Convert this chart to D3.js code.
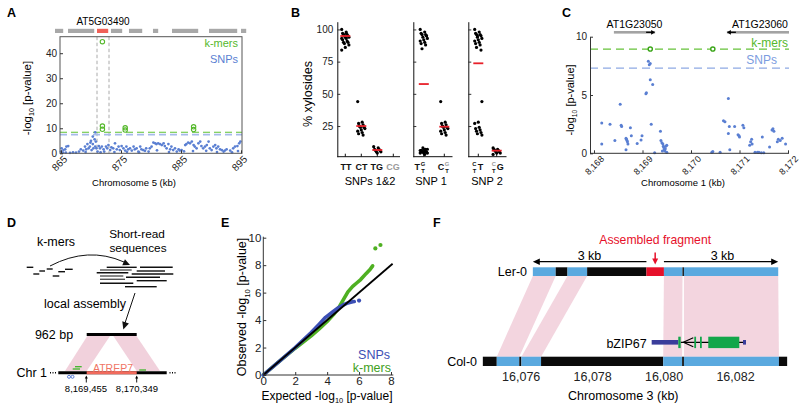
<!DOCTYPE html>
<html><head><meta charset="utf-8">
<script src="https://d3js.org/d3.v7.min.js"></script>
<style>
html,body{margin:0;padding:0;background:#fff;}
svg{display:block;font-family:"Liberation Sans",Arial,Helvetica,sans-serif;}
</style></head>
<body><svg id="fig" width="800" height="411" viewBox="0 0 800 411"></svg>
<script>
// ================= DATA =================
// Panel A
const aTicksX = [865, 875, 885, 895];
const aTicksY = [0, 10, 20, 30, 40];
const aGeneStart = [864.0, 866.17, 871.0, 873.33, 876.33, 880.33, 883.5, 889.67, 895.0];
const aGeneEnd   = [865.5, 870.67, 873.0, 875.33, 878.67, 881.33, 888.0, 894.5, 896.0];
const aGeneName = "AT5G03490";
const aGeneIdx = 2;
const aKmerThreshold = 8.4;
const aSnpThreshold = 7.5;
const aKmerPos = [871.9, 871.9, 871.9, 875.7, 875.7, 887.1, 887.1];
const aKmerVal = [44.6, 10.9, 9.6, 10.2, 9.3, 10.6, 9.5];
const aSnpPos = [865.0,865.1,865.4,865.7,865.9,866.2,865.8,865.3,866.5,867.0,867.5,868.0,868.3,868.7,869.0,869.1,869.2,869.4,869.6,869.8,869.9,
 870.0,870.1,870.3,870.3,870.4,870.6,870.7,870.7,870.8,870.9,871.1,871.3,871.5,871.6,871.8,872.1,872.2,872.5,872.7,872.9,873.2,873.4,873.7,873.9,
 874.0,874.3,874.6,874.8,875.1,875.4,875.7,875.9,876.0,876.2,876.5,876.8,877.1,877.3,877.6,877.9,878.0,878.2,878.4,878.7,879.0,879.2,879.6,879.8,
 880.1,880.4,880.7,880.9,881.0,881.2,881.5,881.8,882.1,882.3,882.6,882.9,883.0,883.2,883.4,883.7,884.0,884.3,884.6,884.8,885.1,885.5,885.7,885.9,
 886.2,886.5,886.8,887.0,887.1,887.3,887.6,887.9,888.2,888.4,888.7,889.0,889.2,889.3,889.6,889.8,890.1,890.4,890.7,890.9,891.0,891.2,891.5,891.8,
 892.1,892.3,892.6,893.2,893.5,893.7,894.0,894.4,894.5,894.7,894.9];
const aSnpVal = [0.7,2.0,1.3,1.6,2.7,2.9,0.3,0.3,0.2,0.4,0.3,0.7,1.6,1.1,2.7,0.5,1.6,3.7,2.0,2.7,4.3,
 5.0,1.3,3.7,6.7,2.0,5.6,2.7,8.4,4.7,2.0,0.7,2.9,2.0,0.4,2.7,1.6,0.7,2.7,2.0,3.3,1.3,2.4,2.0,0.5,
 4.0,1.6,2.7,1.3,2.9,2.0,1.1,2.7,0.6,1.6,2.0,1.1,2.7,1.6,2.0,0.7,0.4,2.7,1.6,1.3,1.0,2.0,0.7,2.0,
 2.7,4.3,4.0,3.7,1.2,4.0,3.7,3.3,4.0,2.9,2.0,3.7,0.5,1.6,2.7,1.3,2.0,0.7,1.6,1.1,1.3,0.8,3.3,3.7,
 4.3,4.0,4.7,0.9,3.3,2.7,2.0,4.0,4.7,2.9,2.0,2.7,1.0,3.3,4.7,2.0,1.3,2.7,3.3,2.0,0.5,2.7,1.6,1.3,
 0.7,1.1,1.6,1.1,0.4,2.0,2.7,2.9,0.9,4.0,4.7];

// Panel B
const bGroupNames = ["SNPs 1&2", "SNP 1", "SNP 2"];
const bTicksY = [25, 50, 75, 100];
const b1Cats = ["TT", "CT", "TG", "CG"];
const b1Means = [94.9, 25.0, 6.4, null];
const b1Values = [
  [100,98,97,96,96,95,95,94,94,93,93,92,91,90,90,89,88,86,84,97],
  [44,28,27,26,25,24,24,23,22,21,20,19,18,25],
  [9,8,7,7,6,6,5,5,4],
  []];
const b2Cats = ["T(G/T)", "C(G/T)"];
const b2Means = [57.6, 24.5];
const b2Values = [
  [100,98,97,96,96,95,94,93,92,91,90,89,88,85,95,8,7,7,6,6,6,5,5,5,5,4,4,4,3,6,7,5],
  [44,28,27,26,25,24,24,23,22,21,20,19,18,25]];
const b3Cats = ["(C/T)T", "(C/T)G"];
const b3Means = [73.7, 5.9];
const b3Values = [
  [100,98,97,96,96,95,94,93,92,91,90,89,88,86,84,95,44,28,27,24,23,22,21,20,19,18],
  [8,7,7,6,6,5,5,4,4,3]];

// Panel C
const cTicksX = [8168, 8169, 8170, 8171, 8172];
const cTicksY = [0, 5, 10];
const cGeneNames = ["AT1G23050", "AT1G23060"];
const cGeneStart = [8168.41, 8170.74];
const cGeneEnd = [8169.26, 8172.04];
const cGeneStrand = [1, -1];
const cKmerThreshold = 8.94;
const cSnpThreshold = 7.3;
const cKmerPos = [8169.16, 8170.45];
const cKmerVal = [8.94, 8.94];
const cSnpPos = [8168.16,8168.16,8168.33,8168.43,8168.54,8168.56,8168.57,8168.66,8168.67,8168.68,8168.69,8168.70,8168.66,8168.75,8168.77,
 8168.89,8168.97,8168.99,8169.07,8169.08,8169.16,8169.21,8169.12,8169.14,8169.16,8169.18,8169.25,8169.37,8169.38,8169.40,8169.42,8169.43,
 8169.44,8169.45,8169.46,8169.47,8169.48,8169.50,8169.50,8169.41,8170.43,8170.45,8170.60,8170.67,8170.70,8170.77,8170.77,8170.79,8170.80,
 8170.90,8170.97,8170.99,8171.00,8171.07,8171.09,8171.21,8171.23,8171.25,8171.26,8171.32,8171.37,8171.40,8171.45,8171.47,8171.50,8171.62,
 8171.67,8171.69,8171.71,8171.78,8171.80,8171.84,8171.88,8171.95];
const cSnpVal = [2.6,0.8,2.5,1.1,4.2,2.4,2.3,1.3,1.2,1.1,1.0,0.8,0.3,2.2,1.5,
 0.85,1.14,1.5,5.1,5.2,6.3,5.9,7.9,7.6,7.7,2.5,0.05,1.9,1.1,0.9,0.8,0.6,
 0.5,0.3,0.2,0.4,0.6,0.7,0.1,0.2,0.1,0.15,0.1,2.8,2.7,4.7,1.7,2.3,0.3,
 2.3,1.6,1.5,1.4,2.4,2.2,0.7,1.0,1.2,0.8,0.1,0.1,0.1,0.05,1.4,0.05,0.55,
 2.0,2.1,1.9,1.0,1.2,1.1,1.3,0.8];

// Panel D
const dLeftCoord = "8,169,455";
const dRightCoord = "8,170,349";
const dContig = "962 bp";
const dTE = "ATREP7";

// Panel E
const eTicksX = [0, 2, 4, 6, 8];
const eTicksY = [0, 2, 4, 6, 8, 10];
const eKmerExp = [0, 1, 2, 3, 3.5, 4, 4.4, 4.7, 5.0, 5.3, 5.6, 5.85, 6.1, 6.45, 6.7, 6.85];
const eKmerObs = [0, 1, 1.95, 2.85, 3.35, 3.9, 4.4, 4.85, 5.45, 6.05, 6.45, 6.7, 6.95, 7.4, 7.7, 7.95];
const eKmerOutExp = [7.02, 7.34];
const eKmerOutObs = [9.22, 9.47];
const eSnpExp = [0, 1, 2, 2.5, 3, 3.5, 3.9, 4.3, 4.7, 5.0, 5.3, 5.6, 5.7];
const eSnpObs = [0, 1, 2, 2.55, 3.1, 3.7, 4.2, 4.55, 4.9, 5.1, 5.25, 5.33, 5.35];
const eSnpOutExp = [6.0];
const eSnpOutObs = [5.42];
const eDiagonal = [0, 8.1];

// Panel F
const fTicksX = [16076, 16078, 16080, 16082];
const fLerStart = [16076.34, 16076.98, 16077.31, 16077.86, 16079.52, 16080.01, 16080.53, 16080.57];
const fLerEnd   = [16076.98, 16077.31, 16077.86, 16079.52, 16080.01, 16080.53, 16080.57, 16083.21];
const fLerType  = ["aligned", "unaligned", "aligned", "unaligned", "assembled", "aligned", "unaligned", "aligned"];
const fColStart = [16074.94, 16075.33, 16075.96, 16076.02, 16076.57, 16079.99, 16080.52, 16080.57, 16083.23];
const fColEnd   = [16075.33, 16075.96, 16076.02, 16076.57, 16079.99, 16080.52, 16080.57, 16083.23, 16083.46];
const fColType  = ["unaligned", "aligned", "unaligned", "aligned", "unaligned", "aligned", "unaligned", "aligned", "unaligned"];
const fPairsLer = [0, 2, 5, 7];
const fPairsCol = [1, 3, 5, 7];
const fGeneName = "bZIP67";
const fUtrStart = [16079.667, 16082.224];
const fUtrEnd   = [16080.412, 16082.308];
const fExonStart = [16080.412, 16080.86, 16081.02, 16081.252];
const fExonEnd   = [16080.479, 16080.91, 16081.07, 16082.12];
const fChevron = [16080.552, 16080.832];
const fSpan = [3, 3];

// ================= DRAWING =================
const svg = d3.select("#fig");
const GREEN = "#55b82c", BLUE = "#5a7fd2", LBLUE = "#a6bbea", AXC = "#333";

function txt(g, x, y, s, size, o = {}) {
  const t = g.append("text").attr("x", x).attr("y", y).attr("font-size", size).text(s);
  if (o.anchor) t.attr("text-anchor", o.anchor);
  if (o.fill) t.attr("fill", o.fill);
  if (o.weight) t.attr("font-weight", o.weight);
  return t;
}
function logTitle(g, x, y, size, pre, rotate) {
  const t = g.append("text").attr("text-anchor", "middle").attr("font-size", size)
    .attr("transform", rotate ? `translate(${x},${y}) rotate(-90)` : `translate(${x},${y})`);
  t.append("tspan").text(pre + "-log");
  t.append("tspan").attr("font-size", size * 0.62).attr("dy", size * 0.3).text("10");
  t.append("tspan").attr("dy", -size * 0.3).text(" [p-value]");
}
function styleAxis(a, size) {
  a.attr("font-family", null).attr("font-size", null).attr("color", AXC);
  a.selectAll("text").attr("font-size", size).attr("fill", "#222");
}
function arrowHead(g, tx, ty, ang, len, half, color) {
  const c = Math.cos(ang), s = Math.sin(ang);
  const bx = tx - len * c, by = ty - len * s;
  g.append("path").attr("d", `M${tx},${ty}L${bx - half * s},${by + half * c}L${bx + half * s},${by - half * c}Z`).attr("fill", color);
}
function letter(t, x, y) { txt(svg, x, y, t, 12.5, { weight: "bold" }); }

letter("A", 7, 17); letter("B", 291, 17); letter("C", 562, 17);
letter("D", 7, 227); letter("E", 221, 227); letter("F", 433, 227);

// ---------- Panel A ----------
(function () {
  const g = svg.append("g");
  const L = 60, R = 242, T = 36.7, B = 153.3;
  const x = d3.scaleLinear().domain([865, 895]).range([61, 241]);
  const y = d3.scaleLinear().domain([0, 46.6]).range([B, T]);
  g.selectAll("rect.gene").data(aGeneStart.map((s, i) => ({ s, e: aGeneEnd[i], hi: i === aGeneIdx }))).join("rect")
    .attr("x", d => x(d.s)).attr("y", 28.8).attr("width", d => x(d.e) - x(d.s) - 0.8).attr("height", 4.2)
    .attr("fill", d => d.hi ? "#f06158" : "#a8a8a8");
  txt(g, (x(aGeneStart[aGeneIdx]) + x(aGeneEnd[aGeneIdx])) / 2, 25, aGeneName, 10, { anchor: "middle" });
  [aGeneStart[aGeneIdx], aGeneEnd[aGeneIdx]].forEach(v => {
    g.append("line").attr("x1", x(v)).attr("x2", x(v)).attr("y1", T).attr("y2", B)
      .attr("stroke", "#a0a0a0").attr("stroke-width", 0.9).attr("stroke-dasharray", "3.5,2.5");
  });
  g.append("line").attr("x1", L).attr("x2", R).attr("y1", y(aSnpThreshold)).attr("y2", y(aSnpThreshold))
    .attr("stroke", LBLUE).attr("stroke-width", 1.8).attr("stroke-dasharray", "7,4");
  g.append("line").attr("x1", L).attr("x2", R).attr("y1", y(aKmerThreshold)).attr("y2", y(aKmerThreshold))
    .attr("stroke", "#5fc233").attr("stroke-width", 1.1).attr("stroke-dasharray", "7,4");
  g.selectAll("circle.snp").data(aSnpPos.map((p, i) => [p, aSnpVal[i]])).join("circle")
    .attr("cx", d => x(d[0])).attr("cy", d => y(d[1])).attr("r", 1.35).attr("fill", BLUE);
  g.selectAll("circle.kmer").data(aKmerPos.map((p, i) => [p, aKmerVal[i]])).join("circle")
    .attr("cx", d => x(d[0])).attr("cy", d => y(d[1])).attr("r", 2.2).attr("fill", "none")
    .attr("stroke", GREEN).attr("stroke-width", 1.1);
  g.append("rect").attr("x", L).attr("y", T).attr("width", R - L).attr("height", B - T)
    .attr("fill", "none").attr("stroke", "#555").attr("stroke-width", 1);
  const ay = g.append("g").attr("transform", `translate(${L},0)`)
    .call(d3.axisLeft(y).tickValues(aTicksY).tickSize(-3).tickPadding(3));
  ay.select(".domain").remove(); styleAxis(ay, 10);
  const ax = g.append("g").attr("transform", `translate(0,${B})`)
    .call(d3.axisBottom(x).tickValues(aTicksX).tickSize(-3).tickFormat(d3.format("d")));
  ax.select(".domain").remove(); styleAxis(ax, 10);
  ax.selectAll("text").attr("y", 0).attr("dy", "0.35em").attr("text-anchor", "middle")
    .attr("transform", "translate(-2,10) rotate(-45)");
  txt(g, 238, 46.5, "k-mers", 11, { anchor: "end", fill: GREEN });
  txt(g, 238, 62.5, "SNPs", 11, { anchor: "end", fill: BLUE });
  txt(g, 134, 185.5, "Chromosome 5 (kb)", 9.5, { anchor: "middle" });
  logTitle(g, 31, 98, 11.5, "", true);
})();

// ---------- Panel B ----------
(function () {
  const g = svg.append("g");
  const y = d3.scaleLinear().domain([1.2, 106]).range([156.7, 21.7]);
  const jit = i => ((i * 5) % 9 - 4) * 0.9;
  const subs = [
    { x0: 337.3, x1: 400, cats: b1Cats, range: [345.3, 393.3], vals: b1Values, means: b1Means, labels: true, name: bGroupNames[0], nx: 370 },
    { x0: 413.3, x1: 452.5, cats: b2Cats, range: [423.8, 444.3], vals: b2Values, means: b2Means, labels: false, name: bGroupNames[1], nx: 431 },
    { x0: 468.3, x1: 506.5, cats: b3Cats, range: [478.3, 496.7], vals: b3Values, means: b3Means, labels: false, name: bGroupNames[2], nx: 487 }];
  subs.forEach(s => {
    const x = d3.scalePoint().domain(s.cats).range(s.range);
    const ay = g.append("g").attr("transform", `translate(${s.x0},0)`)
      .call(d3.axisLeft(y).tickValues(bTicksY).tickSize(-3).tickPadding(4).tickSizeOuter(0)
        .tickFormat(s.labels ? d3.format("d") : () => ""));
    styleAxis(ay, 10);
    ay.select(".domain").attr("stroke", "#111");
    g.append("line").attr("x1", s.x0).attr("x2", s.x1).attr("y1", 156.7).attr("y2", 156.7).attr("stroke", "#111");
    s.cats.forEach(c => g.append("line").attr("x1", x(c)).attr("x2", x(c)).attr("y1", 156.7).attr("y2", 153.7).attr("stroke", "#111"));
    s.cats.forEach((c, ci) => {
      g.selectAll(null).data(s.vals[ci]).join("circle")
        .attr("cx", (d, i) => x(c) + jit(i)).attr("cy", d => y(d)).attr("r", 1.6).attr("fill", "#000");
      if (s.means[ci] != null)
        g.append("line").attr("x1", x(c) - 5).attr("x2", x(c) + 5).attr("y1", y(s.means[ci])).attr("y2", y(s.means[ci]))
          .attr("stroke", "#e8202a").attr("stroke-width", 1.8);
    });
    txt(g, s.nx, 184.5, s.name, 11, { anchor: "middle" });
  });
  // category tick labels (allele notation)
  const LBL = 9, SM = 5.8, GR = "#9a9a9a", base = 170, TOP = 165.5, BOT = 172.5;
  txt(g, 346, base, "TT", LBL, { anchor: "middle", weight: "bold", fill: "#111" });
  txt(g, 361.5, base, "CT", LBL, { anchor: "middle", weight: "bold", fill: "#111" });
  txt(g, 376.7, base, "TG", LBL, { anchor: "middle", weight: "bold", fill: "#111" });
  txt(g, 393, base, "CG", LBL, { anchor: "middle", weight: "bold", fill: GR });
  function stacked(parts) {
    const t = g.append("text").attr("font-weight", "bold").attr("text-anchor", "middle").attr("fill", "#111");
    parts.forEach(p => t.append("tspan").attr("x", p[0]).attr("y", p[1]).attr("font-size", p[3])
      .attr("fill", p[4] ? GR : "#111").text(p[2]));
  }
  stacked([[417.3, base, "T", LBL], [423, TOP, "G", SM], [423, BOT, "T", SM]]);
  stacked([[441, base, "C", LBL], [447, TOP, "G", SM, 1], [447, BOT, "T", SM]]);
  stacked([[474.4, TOP, "C", SM], [474.4, BOT, "T", SM], [480.4, base, "T", LBL]]);
  stacked([[493.8, TOP, "C", SM, 1], [493.8, BOT, "T", SM], [500.2, base, "G", LBL]]);
  g.append("text").attr("transform", "translate(312,94) rotate(-90)").attr("text-anchor", "middle")
    .attr("font-size", 12.5).text("% xylosides");
})();

// ---------- Panel C ----------
(function () {
  const g = svg.append("g");
  const L = 590, R = 789, T = 36.7, B = 153.3;
  const x = d3.scaleLinear().domain([8168, 8172]).range([594, 788]);
  const y = d3.scaleLinear().domain([0, 10]).range([B, T]);
  cGeneStart.forEach((s, i) => {
    g.append("rect").attr("x", x(s)).attr("y", 31).attr("width", Math.min(x(cGeneEnd[i]), R) - x(s)).attr("height", 2.6).attr("fill", "#a3a3a3");
    const tipX = cGeneStrand[i] > 0 ? x(cGeneEnd[i]) : x(s);
    const tailX = tipX - cGeneStrand[i] * 9;
    g.append("line").attr("x1", tailX).attr("x2", tipX - cGeneStrand[i] * 3).attr("y1", 32.3).attr("y2", 32.3).attr("stroke", "#000").attr("stroke-width", 1.3);
    arrowHead(g, tipX, 32.3, cGeneStrand[i] > 0 ? 0 : Math.PI, 4, 2.4, "#000");
    txt(g, i === 0 ? (x(s) + x(cGeneEnd[i])) / 2 : 760, 28, cGeneNames[i], 10.5, { anchor: "middle" });
  });
  g.append("line").attr("x1", L).attr("x2", R).attr("y1", y(cSnpThreshold)).attr("y2", y(cSnpThreshold))
    .attr("stroke", "#8ea9e3").attr("stroke-width", 1.2).attr("stroke-dasharray", "8,5");
  g.append("line").attr("x1", L).attr("x2", R).attr("y1", y(cKmerThreshold)).attr("y2", y(cKmerThreshold))
    .attr("stroke", "#66c23a").attr("stroke-width", 1.2).attr("stroke-dasharray", "8,5");
  g.selectAll("circle.snp").data(cSnpPos.map((p, i) => [p, cSnpVal[i]])).join("circle")
    .attr("cx", d => x(d[0])).attr("cy", d => y(d[1])).attr("r", 1.5).attr("fill", BLUE);
  g.selectAll("circle.kmer").data(cKmerPos.map((p, i) => [p, cKmerVal[i]])).join("circle")
    .attr("cx", d => x(d[0])).attr("cy", d => y(d[1])).attr("r", 2.1).attr("fill", "#fff")
    .attr("stroke", "#3aa518").attr("stroke-width", 1.4);
  const ay = g.append("g").attr("transform", `translate(${L},0)`)
    .call(d3.axisLeft(y).tickValues(cTicksY).tickSize(-3).tickPadding(3).tickSizeOuter(0));
  styleAxis(ay, 10);
  g.append("line").attr("x1", L).attr("x2", R).attr("y1", B).attr("y2", B).attr("stroke", AXC);
  const ax = g.append("g").attr("transform", `translate(0,${B})`)
    .call(d3.axisBottom(x).tickValues(cTicksX).tickSize(-3).tickFormat(d3.format(",")));
  ax.select(".domain").remove(); styleAxis(ax, 9);
  ax.selectAll("text").attr("y", 0).attr("dy", "0.35em").attr("text-anchor", "middle")
    .attr("transform", "translate(0,12) rotate(-45)");
  txt(g, 788, 47, "k-mers", 12, { anchor: "end", fill: GREEN });
  txt(g, 777, 64, "SNPs", 12, { anchor: "end", fill: "#7b9ce0" });
  txt(g, 683, 186, "Chromosome 1 (kb)", 9.5, { anchor: "middle" });
  logTitle(g, 574, 100, 11, "", true);
})();

// ---------- Panel D ----------
(function () {
  const g = svg.append("g");
  txt(g, 56, 246, "k-mers", 12.5, { anchor: "middle" });
  txt(g, 137, 237.8, "Short-read", 11.8, { anchor: "middle" });
  txt(g, 138, 251.5, "sequences", 11.8, { anchor: "middle" });
  [[26.7, 33.3, 267.3], [33.3, 39.3, 274], [39.3, 45, 271], [46.7, 52.7, 269], [52.7, 59.3, 276], [58.3, 65, 271.7], [65, 72.7, 269.3]]
    .forEach(d => g.append("line").attr("x1", d[0]).attr("x2", d[1]).attr("y1", d[2]).attr("y2", d[2]).attr("stroke", "#111").attr("stroke-width", 1.4));
  g.append("path").attr("d", "M50,266 Q88,246 124,262").attr("fill", "none").attr("stroke", "#111").attr("stroke-width", 1);
  arrowHead(g, 130, 265, 0.42, 7, 3.3, "#111");
  [[106.7, 136.7, 267.3, 0], [140, 172.7, 267.3, 0], [100, 131.7, 270, 1], [136.7, 165, 271, 0], [96.7, 128.3, 272.7, 0],
   [131.7, 173.3, 274, 0], [100, 123.3, 276, 1], [126, 160, 277.3, 0], [100, 125, 279.3, 1], [136.7, 166.7, 280.7, 0],
   [100, 133.3, 283.3, 0], [125, 156.7, 286.7, 0]]
    .forEach(d => g.append("line").attr("x1", d[0]).attr("x2", d[1]).attr("y1", d[2]).attr("y2", d[2])
      .attr("stroke", d[3] ? "#555" : "#111").attr("stroke-width", 1.4));
  txt(g, 85, 307.5, "local assembly", 12.5, { anchor: "middle" });
  g.append("line").attr("x1", 135).attr("y1", 293).attr("x2", 125).attr("y2", 323).attr("stroke", "#111").attr("stroke-width", 1);
  arrowHead(g, 123.3, 329.5, Math.atan2(36.5, -11.7), 7.5, 3.5, "#111");
  txt(g, 54, 339, dContig, 12.5, { anchor: "middle" });
  g.append("path").attr("d", "M87.3,336 L110,336 L86.7,371 L65,371 Z").attr("fill", "#efc9d6").attr("opacity", 0.85);
  g.append("path").attr("d", "M113.3,336 L136.5,336 L160,371 L136.7,371 Z").attr("fill", "#efc9d6").attr("opacity", 0.85);
  g.append("line").attr("x1", 86.7).attr("x2", 136.7).attr("y1", 334.5).attr("y2", 334.5).attr("stroke", "#000").attr("stroke-width", 3);
  g.append("line").attr("x1", 58.3).attr("x2", 166.7).attr("y1", 372.7).attr("y2", 372.7).attr("stroke", "#000").attr("stroke-width", 3);
  g.append("line").attr("x1", 86.7).attr("x2", 136.7).attr("y1", 372.7).attr("y2", 372.7).attr("stroke", "#f26a5c").attr("stroke-width", 3);
  g.append("line").attr("x1", 50).attr("x2", 56).attr("y1", 372.7).attr("y2", 372.7).attr("stroke", "#000").attr("stroke-width", 1.6).attr("stroke-dasharray", "1,1.5");
  g.append("line").attr("x1", 169.5).attr("x2", 177).attr("y1", 372.7).attr("y2", 372.7).attr("stroke", "#000").attr("stroke-width", 1.6).attr("stroke-dasharray", "1,1.5");
  txt(g, 113, 371.5, dTE, 10.5, { anchor: "middle", fill: "#f07565" });
  txt(g, 16.5, 377, "Chr 1", 12.5);
  [[75, 81.7, 366.7], [72.7, 80, 369], [139.3, 146, 370]].forEach(d =>
    g.append("line").attr("x1", d[0]).attr("x2", d[1]).attr("y1", d[2]).attr("y2", d[2]).attr("stroke", "#3fb52a").attr("stroke-width", 1.3));
  [69, 72.5].forEach(cx => g.append("circle").attr("cx", cx).attr("cy", 376.8).attr("r", 1.5).attr("fill", "none").attr("stroke", "#4a6fcf").attr("stroke-width", 0.9));
  [86.3, 136.7].forEach(xx => {
    g.append("line").attr("x1", xx).attr("x2", xx).attr("y1", 382.5).attr("y2", 378).attr("stroke", "#000").attr("stroke-width", 0.9);
    arrowHead(g, xx, 375.5, -Math.PI / 2, 3, 1.5, "#000");
  });
  txt(g, 86, 391.5, dLeftCoord, 9.5, { anchor: "middle" });
  txt(g, 137, 391.5, dRightCoord, 9.5, { anchor: "middle" });
})();

// ---------- Panel E ----------
(function () {
  const g = svg.append("g");
  const x = d3.scaleLinear().domain([0, 8]).range([263.3, 391]);
  const y = d3.scaleLinear().domain([0, 10]).range([375, 237.7]);
  const line = d3.line().x(d => x(d[0])).y(d => y(d[1]));
  g.append("path").datum(eKmerExp.map((v, i) => [v, eKmerObs[i]])).attr("d", line).attr("fill", "none")
    .attr("stroke", "#4fb022").attr("stroke-width", 3.6).attr("stroke-linecap", "round").attr("stroke-linejoin", "round");
  g.selectAll("circle.ko").data(eKmerOutExp.map((v, i) => [v, eKmerOutObs[i]])).join("circle")
    .attr("cx", d => x(d[0])).attr("cy", d => y(d[1])).attr("r", 2.1).attr("fill", "#4fb022");
  g.append("path").datum(eSnpExp.map((v, i) => [v, eSnpObs[i]])).attr("d", line).attr("fill", "none")
    .attr("stroke", "#3c4fb5").attr("stroke-width", 3.6).attr("stroke-linecap", "round").attr("stroke-linejoin", "round");
  g.selectAll("circle.so").data(eSnpOutExp.map((v, i) => [v, eSnpOutObs[i]])).join("circle")
    .attr("cx", d => x(d[0])).attr("cy", d => y(d[1])).attr("r", 2.1).attr("fill", "#3c4fb5");
  g.append("path").datum(eDiagonal.map(v => [v, v])).attr("d", line).attr("stroke", "#000").attr("stroke-width", 1.8);
  const ay = g.append("g").attr("transform", "translate(263.3,0)")
    .call(d3.axisLeft(y).tickValues(eTicksY).tickSize(-3).tickPadding(2).tickSizeOuter(0));
  styleAxis(ay, 11.5);
  ay.select(".domain").attr("d", "M0,375V236.7");
  const ax = g.append("g").attr("transform", "translate(0,375)")
    .call(d3.axisBottom(x).tickValues(eTicksX).tickSize(-3).tickPadding(2).tickSizeOuter(0));
  styleAxis(ax, 11.5);
  ax.select(".domain").attr("d", "M263.3,0H393.3");
  txt(g, 390, 358.5, "SNPs", 12.5, { anchor: "end", fill: "#3c4fb5" });
  txt(g, 391, 372, "k-mers", 12.5, { anchor: "end", fill: "#3f9f1c" });
  logTitle(g, 327, 399.5, 12, "Expected ", false);
  logTitle(g, 246, 307, 12.5, "Observed ", true);
})();

// ---------- Panel F ----------
(function () {
  const g = svg.append("g");
  const x = d3.scaleLinear().domain([16076, 16082]).range([520.7, 735]);
  const LT = 267.3, LB = 276, CT = 356.7, CB = 366;
  const col = { aligned: "#5aa9df", unaligned: "#0b0b0b", assembled: "#e6102a" };
  fPairsLer.forEach((li, k) => {
    const ci = fPairsCol[k];
    g.append("path").attr("d", `M${x(fLerStart[li])},${LB} L${x(fLerEnd[li])},${LB} L${x(fColEnd[ci])},${CT} L${x(fColStart[ci])},${CT} Z`)
      .attr("fill", "#f3d5df");
  });
  g.append("line").attr("x1", x(fExonEnd[0])).attr("x2", x(fUtrStart[1])).attr("y1", 342.3).attr("y2", 342.3).attr("stroke", "#000").attr("stroke-width", 1.2);
  g.append("path").attr("d", `M${x(fChevron[1])},337.8 L${x(fChevron[0])},342.3 L${x(fChevron[1])},346.8`).attr("fill", "none").attr("stroke", "#000").attr("stroke-width", 1.1);
  fUtrStart.forEach((s, i) => g.append("rect").attr("x", x(s)).attr("width", x(fUtrEnd[i]) - x(s)).attr("y", 340).attr("height", 4.6).attr("fill", "#3a3d9b"));
  fExonStart.forEach((s, i) => g.append("rect").attr("x", x(s)).attr("width", Math.max(x(fExonEnd[i]) - x(s), 1.6)).attr("y", 336.7).attr("height", 11.4).attr("fill", "#12a64a"));
  txt(g, 646.7, 347.5, fGeneName, 12.5, { anchor: "end" });
  fLerStart.forEach((s, i) => g.append("rect").attr("x", x(s)).attr("width", x(fLerEnd[i]) - x(s)).attr("y", LT).attr("height", LB - LT).attr("fill", col[fLerType[i]]));
  fColStart.forEach((s, i) => g.append("rect").attr("x", x(s)).attr("width", x(fColEnd[i]) - x(s)).attr("y", CT).attr("height", CB - CT).attr("fill", col[fColType[i]]));
  txt(g, 527, 276, "Ler-0", 12.5, { anchor: "end" });
  txt(g, 477, 366, "Col-0", 12.5, { anchor: "end" });
  const ay = 261.7;
  const leftEnd = x(fLerStart[4]), rightStart = x(fLerEnd[4]);
  g.append("line").attr("x1", leftEnd).attr("x2", x(fLerStart[0]) + 5).attr("y1", ay).attr("y2", ay).attr("stroke", "#000").attr("stroke-width", 1.3);
  arrowHead(g, x(fLerStart[0]), ay, Math.PI, 7, 3.3, "#000");
  g.append("line").attr("x1", rightStart).attr("x2", x(fLerEnd[7]) - 5).attr("y1", ay).attr("y2", ay).attr("stroke", "#000").attr("stroke-width", 1.3);
  arrowHead(g, x(fLerEnd[7]), ay, 0, 7, 3.3, "#000");
  txt(g, 589.5, 259.5, fSpan[0] + " kb", 12.5, { anchor: "middle" });
  txt(g, 722.5, 259.5, fSpan[1] + " kb", 12.5, { anchor: "middle" });
  const fx = (x(fLerStart[4]) + x(fLerEnd[4])) / 2;
  txt(g, fx, 244, "Assembled fragment", 12.2, { anchor: "middle", fill: "#e6102a" });
  g.append("line").attr("x1", fx).attr("x2", fx).attr("y1", 252.5).attr("y2", 259).attr("stroke", "#e6102a").attr("stroke-width", 1.5);
  arrowHead(g, fx, 264.5, Math.PI / 2, 6, 3, "#e6102a");
  const axis = g.append("g").attr("transform", `translate(0,${CB})`)
    .call(d3.axisBottom(x).tickValues(fTicksX).tickSize(0).tickPadding(6).tickFormat(d3.format(",")));
  axis.select(".domain").remove(); styleAxis(axis, 12.5);
  txt(g, 623.3, 400, "Chromosome 3 (kb)", 12.5, { anchor: "middle" });
})();
</script></body></html>
